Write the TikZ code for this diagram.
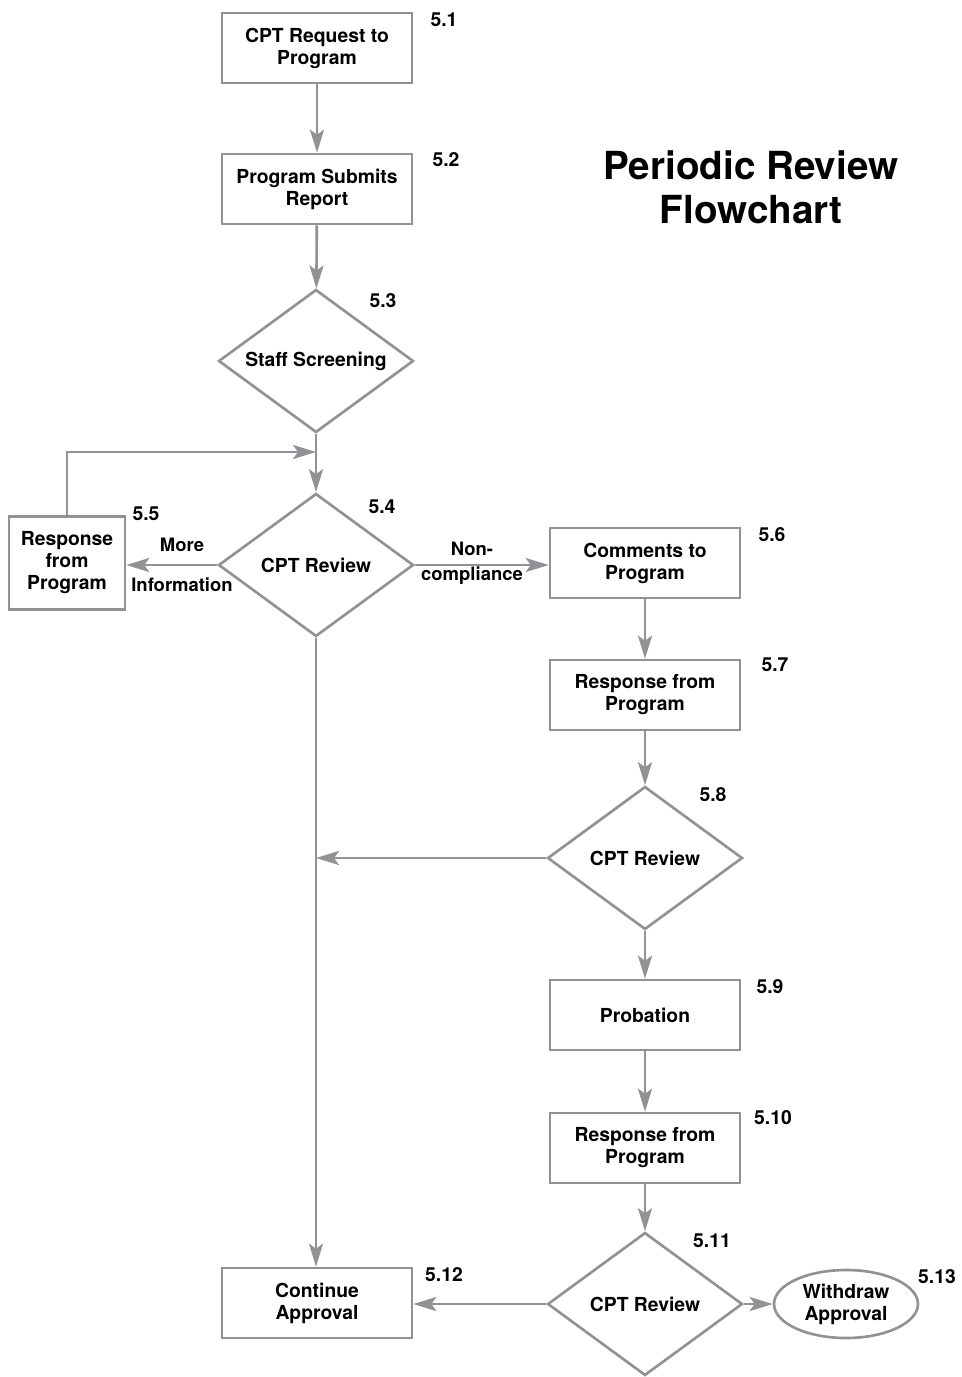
\documentclass[tikz,border=0pt]{standalone}
\usepackage{fontspec}
\setmainfont{TeX Gyre Heros}
\usetikzlibrary{shapes.geometric,arrows.meta}
\definecolor{linegray}{RGB}{145,145,150}
\begin{document}
\begin{tikzpicture}[x=0.02cm,y=-0.02cm,
	font=\bfseries\fontsize{11}{12.5}\selectfont,
	grayline/.style={draw=linegray,line width=1.5pt},
	arr/.style={grayline,-{Stealth[length=0.46cm,width=0.28cm,inset=0.1cm]}},
	box/.style={grayline,rectangle,minimum width=3.8cm,minimum height=1.4cm,align=center,inner sep=2pt},
	check/.style={grayline,diamond,shape aspect=1.36,minimum width=3.9cm,minimum height=2.86cm,inner sep=0pt,align=center},
	oval/.style={grayline,ellipse,minimum width=2.88cm,minimum height=1.36cm,align=center,inner sep=1pt},
	edgetext/.style={font=\bfseries\fontsize{10.5}{12}\selectfont}]
	    \useasboundingbox (0,0) rectangle (961,1377);
	    % title
	    \node[align=center,font=\bfseries\fontsize{22}{25}\selectfont] (title) at (751,187) {Periodic Review\\Flowchart};
	    % main column
	    \node[box] (req) at (317,48) {CPT Request to\\Program};
	    \node[box] (submit) at (317,189) {Program Submits\\Report};
	    \node[check] (screen) at (316,361) {Staff Screening};
	    \node[check] (review1) at (316,565) {CPT Review};
	    \node[box,minimum width=2.32cm,minimum height=1.86cm] (resp1) at (67,563) {Response\\from\\Program};
	    \node[box] (cont) at (317,1303) {Continue\\Approval};
	    % right column
	    \node[box] (comments) at (645,563) {Comments to\\Program};
	    \node[box] (resp2) at (645,695) {Response from\\Program};
	    \node[check] (review2) at (645,858) {CPT Review};
	    \node[box] (probation) at (645,1015) {Probation};
	    \node[box] (resp3) at (645,1148) {Response from\\Program};
	    \node[check] (review3) at (645,1304) {CPT Review};
	    \node[oval] (withdraw) at (846,1304) {Withdraw\\Approval};
	    % step numbers
	    \node (n1) at (444,20) {5.1};
	    \node (n2) at (446,160) {5.2};
	    \node (n3) at (383,301) {5.3};
	    \node (n4) at (382,507) {5.4};
	    \node (n5) at (146,514) {5.5};
	    \node (n6) at (772,535) {5.6};
	    \node (n7) at (775,665) {5.7};
	    \node (n8) at (713,795) {5.8};
	    \node (n9) at (770,987) {5.9};
	    \node (n10) at (773,1118) {5.10};
	    \node (n11) at (712,1241) {5.11};
	    \node (n12) at (444,1275) {5.12};
	    \node (n13) at (937,1277) {5.13};
	    % edge labels
	    \node[edgetext] (more) at (182,545) {More};
	    \node[edgetext] (info) at (182,585) {Information};
	    \node[edgetext] (non) at (472,549) {Non-};
	    \node[edgetext] (compl) at (472,576) {compliance};
	    % junctions
	    \coordinate (join) at (review1.north |- 0,452);
	    \coordinate (merge) at (review1.south |- review2.west);
	    % connectors
	    \draw[arr] (req) -- (submit);
	    \draw[arr] (submit) -- (screen);
	    \draw[arr] (screen) -- (review1);
	    \draw[arr] (resp1.north) |- (join);
	    \draw[arr] (review1.west) -- (resp1.east |- review1.west);
	    \draw[arr] (review1.east) -- (comments.west |- review1.east);
	    \draw[arr] (review1.south) -- (review1.south |- cont.north);
	    \draw[arr] (comments) -- (resp2);
	    \draw[arr] (resp2) -- (review2);
	    \draw[arr] (review2.west) -- (merge);
	    \draw[arr] (review2) -- (probation);
	    \draw[arr] (probation) -- (resp3);
	    \draw[arr] (resp3) -- (review3);
	    \draw[arr] (review3.west) -- (cont.east |- review3.west);
	    \draw[arr] (review3) -- (withdraw);
	\end{tikzpicture}
\end{document}
